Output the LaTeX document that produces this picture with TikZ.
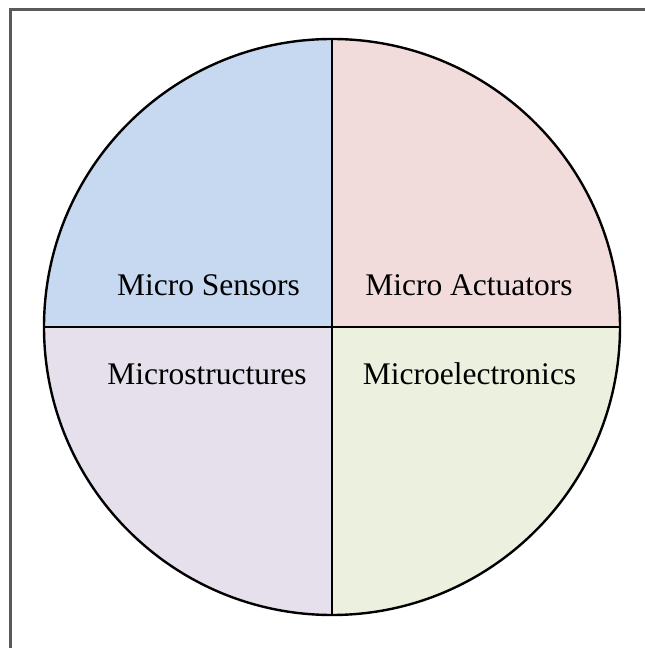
\documentclass[tikz,border=0pt]{standalone}
\usepackage{fontspec}
\setmainfont{Liberation Serif}
\definecolor{qblue}{HTML}{C6D9F1}
\definecolor{qpink}{HTML}{F2DCDB}
\definecolor{qlav}{HTML}{E5E0EC}
\definecolor{qgreen}{HTML}{EBF1DE}
\definecolor{frame}{HTML}{5A5A5A}
\begin{document}
\begin{tikzpicture}[x=1pt,y=1pt,
  lbl/.style={anchor=base,inner sep=0pt,font=\fontsize{31.5}{36}\selectfont}]
\useasboundingbox (0,0) rectangle (645,648);
\fill[white] (0,0) rectangle (645,648);
\coordinate (c) at (332,321);
% quadrants
\fill[qblue] (c) -- ++(-288,0) arc[start angle=180,end angle=90,radius=288] -- cycle;
\fill[qpink] (c) -- ++(0,288) arc[start angle=90,end angle=0,radius=288] -- cycle;
\fill[qgreen] (c) -- ++(288,0) arc[start angle=0,end angle=-90,radius=288] -- cycle;
\fill[qlav] (c) -- ++(0,-288) arc[start angle=270,end angle=180,radius=288] -- cycle;
% dividers and outline
\draw[line width=2.4] (c) circle[radius=288];
\draw[line width=2.4] (44,321) -- (620,321);
\draw[line width=2.4] (332,33) -- (332,609);
% frame
\draw[frame,line width=3] (10,0) -- (10,638.5) -- (645,638.5);
% labels
\node[lbl] (ms) at (208.5,352) {Micro Sensors};
\node[lbl] (ma) at (469,352) {Micro Actuators};
\node[lbl] (mst) at (207,263) {Microstructures};
\node[lbl] (mel) at (469.5,263) {Microelectronics};
\end{tikzpicture}
\end{document}
